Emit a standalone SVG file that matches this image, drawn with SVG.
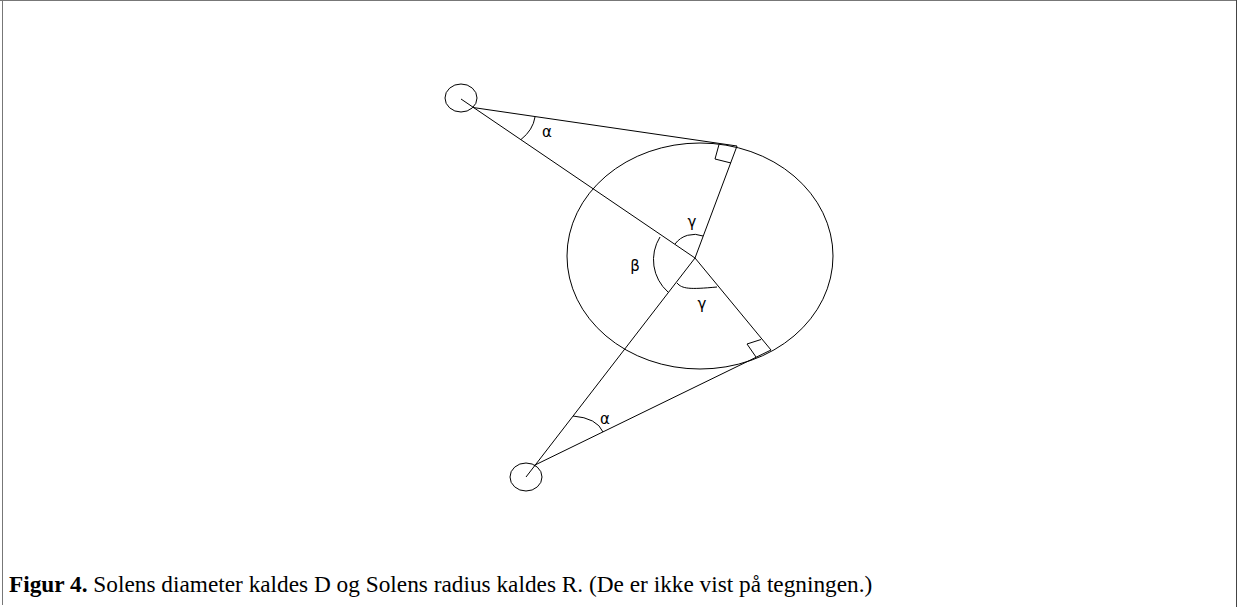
<svg xmlns="http://www.w3.org/2000/svg" width="1237" height="607" viewBox="0 0 1237 607">
<style>
.ln{stroke:#000;stroke-width:1;fill:none}
.gk{font-family:"DejaVu Sans","Liberation Sans",sans-serif;font-size:15px;fill:#000;text-anchor:middle}
.cap{font-family:"Liberation Serif","Times New Roman",serif;font-size:23.3px;fill:#000}
.frame{stroke:#777;stroke-width:1;fill:none}
</style>
<rect width="1237" height="607" fill="#fff"/>
<g id="frame">
<line class="frame" x1="0" y1="0.5" x2="1237" y2="0.5"/>
<line class="frame" x1="2.5" y1="0" x2="2.5" y2="605"/>
<line x1="1236.5" y1="0" x2="1236.5" y2="607" stroke="#444" stroke-width="1"/>
</g>
<g id="sun">
<ellipse class="ln" cx="700" cy="256" rx="133" ry="113"/>
</g>
<g id="observer-top">
<ellipse class="ln" cx="461" cy="98" rx="16" ry="14"/>
</g>
<g id="observer-bottom">
<ellipse class="ln" cx="526" cy="477" rx="16" ry="14"/>
</g>
<g id="connectors">
<line class="ln" x1="461" y1="99" x2="695" y2="258"/>
<line class="ln" x1="473" y1="107.5" x2="737" y2="146"/>
<line class="ln" x1="695" y1="258" x2="737" y2="146"/>
<line class="ln" x1="526" y1="477" x2="695" y2="258"/>
<line class="ln" x1="534" y1="465.5" x2="771" y2="350"/>
<line class="ln" x1="695" y1="258" x2="771" y2="350"/>
<polyline class="ln" points="719,144.5 715,159 731,163"/>
<polyline class="ln" points="761,339.5 747,344 756,357"/>
<path class="ln" d="M521,139.5 Q533,130 535,117"/>
<path class="ln" d="M573,416 Q597,418 603,432"/>
<path class="ln" d="M675,244 A24,24 0 0,1 703,236"/>
<path class="ln" d="M660,237 A43,43 0 0,0 668,292"/>
<path class="ln" d="M677,283 C682,289 690,289.5 717,287"/>
</g>
<g id="labels">
<text class="gk" x="547" y="137">α</text>
<text class="gk" x="692" y="227">γ</text>
<text class="gk" x="635" y="271">β</text>
<text class="gk" x="702" y="309">γ</text>
<text class="gk" x="605" y="424">α</text>
</g>
<g id="caption">
<text class="cap" x="9" y="592"><tspan font-weight="bold">Figur 4.</tspan> Solens diameter kaldes D og Solens radius kaldes R. (De er ikke vist på tegningen.)</text>
</g>
</svg>
